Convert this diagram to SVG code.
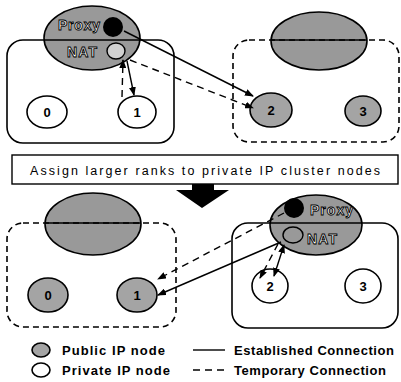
<svg xmlns="http://www.w3.org/2000/svg" width="401" height="382" viewBox="0 0 401 382">
<defs>
<marker id="ah" markerWidth="9" markerHeight="7" refX="8" refY="3.5" orient="auto" markerUnits="userSpaceOnUse"><path d="M0,0 L9,3.5 L0,7 Z" fill="#000"/></marker>
<marker id="ahs" markerWidth="9" markerHeight="7" refX="1" refY="3.5" orient="auto" markerUnits="userSpaceOnUse"><path d="M9,0 L0,3.5 L9,7 Z" fill="#000"/></marker>
</defs>
<style>
.bg{fill:#fff}
.sol{fill:none;stroke:#000;stroke-width:1.6}
.dsh{fill:none;stroke:#000;stroke-width:1.6;stroke-dasharray:6 4}
.oval{fill:#999;stroke:#000;stroke-width:1.6}
.pub{fill:#a4a4a4;stroke:#000;stroke-width:1.6}
.prv{fill:#fff;stroke:#000;stroke-width:1.6}
.lbl{font-family:"Liberation Sans",Arial,sans-serif;font-weight:bold;font-size:13px;text-anchor:middle;fill:#000}
.ol{font-family:"Liberation Sans",Arial,sans-serif;font-weight:bold;font-size:14px;fill:#fff;stroke:#000;stroke-width:0.9}
.txt{font-family:"Liberation Sans",Arial,sans-serif;font-size:12.5px;fill:#000}
.leg{font-family:"Liberation Sans",Arial,sans-serif;font-weight:bold;font-size:13px;fill:#000}
.c{fill:none;stroke:#000;stroke-width:1.4}
.cd{fill:none;stroke:#000;stroke-width:1.4;stroke-dasharray:7 5}
</style>
<rect class="bg" x="0" y="0" width="401" height="382"/>

<g id="cluster-top-left">
<ellipse class="oval" cx="92" cy="38" rx="48" ry="32"/>
<rect class="sol" x="7" y="40" width="167" height="103" rx="16"/>
<text class="ol" x="58" y="30" textLength="42">Proxy</text>
<circle cx="113" cy="27" r="10" fill="#000"/>
<text class="ol" x="67" y="57" textLength="30">NAT</text>
<ellipse cx="116" cy="51" rx="9" ry="8" fill="#d0d0d0" stroke="#000" stroke-width="1.4"/>
</g>
<g id="node-tl-0"><ellipse class="prv" cx="47" cy="112" rx="20" ry="16"/><text class="lbl" x="47" y="117">0</text></g>
<g id="node-tl-1"><ellipse class="prv" cx="137" cy="112" rx="19" ry="16"/><text class="lbl" x="137" y="117">1</text></g>

<g id="cluster-top-right">
<ellipse class="oval" cx="319" cy="41" rx="48" ry="29"/>
<rect class="dsh" x="233" y="40" width="166" height="102" rx="16"/>
<line class="sol" x1="271" y1="40" x2="367" y2="40"/>
</g>
<g id="node-tr-2"><ellipse class="pub" cx="271" cy="110" rx="21" ry="17"/><text class="lbl" x="271" y="115">2</text></g>
<g id="node-tr-3"><ellipse class="pub" cx="363" cy="111" rx="18" ry="15"/><text class="lbl" x="363" y="116">3</text></g>

<g id="banner">
<rect x="12" y="155" width="386" height="29" fill="#fff" stroke="#000" stroke-width="1.4"/>
<text class="txt" x="30" y="175" textLength="350">Assign larger ranks to private IP cluster nodes</text>
</g>
<g id="big-arrow"><polygon points="192,184 214,184 214,190 229,190 202,208 176,190 192,190" fill="#000"/></g>

<g id="cluster-bottom-left">
<ellipse class="oval" cx="93" cy="224" rx="48" ry="31"/>
<rect class="dsh" x="7" y="223" width="169" height="104" rx="16"/>
<line class="sol" x1="45" y1="223" x2="141" y2="223"/>
</g>
<g id="node-bl-0"><ellipse class="pub" cx="48" cy="295" rx="20" ry="17"/><text class="lbl" x="48" y="300">0</text></g>
<g id="node-bl-1"><ellipse class="pub" cx="137" cy="295" rx="20" ry="17"/><text class="lbl" x="137" y="300">1</text></g>

<g id="cluster-bottom-right">
<ellipse class="oval" cx="316" cy="225" rx="46" ry="30"/>
<rect class="sol" x="232" y="223" width="166" height="105" rx="16"/>
<circle cx="294" cy="208" r="10" fill="#000"/>
<text class="ol" x="310" y="215" textLength="43">Proxy</text>
<ellipse cx="293" cy="235" rx="10" ry="8" fill="#999" stroke="#000" stroke-width="1.4"/>
<text class="ol" x="307" y="244" textLength="30">NAT</text>
</g>
<g id="node-br-2"><ellipse class="prv" cx="270" cy="286" rx="18" ry="17"/><text class="lbl" x="270" y="291">2</text></g>
<g id="node-br-3"><ellipse class="prv" cx="363" cy="286" rx="18" ry="17"/><text class="lbl" x="363" y="291">3</text></g>

<g id="connectors">
<line class="c" x1="124" y1="31" x2="253" y2="96" marker-end="url(#ah)"/>
<line class="cd" x1="130" y1="60" x2="253" y2="108" marker-end="url(#ah)"/>
<line class="c" x1="127" y1="61" x2="134" y2="95" marker-end="url(#ah)"/>
<line class="cd" x1="122" y1="97" x2="123" y2="60" marker-end="url(#ah)"/>
<line class="cd" x1="284" y1="213" x2="158" y2="279" marker-end="url(#ah)"/>
<line class="c" x1="281" y1="242" x2="158" y2="295" marker-end="url(#ah)"/>
<line class="cd" x1="278" y1="244" x2="260" y2="278" marker-end="url(#ah)"/>
<line class="c" x1="284" y1="245" x2="274" y2="276" marker-start="url(#ahs)" marker-end="url(#ah)"/>
</g>

<g id="legend">
<ellipse class="pub" cx="41" cy="350" rx="9" ry="7"/>
<text class="leg" x="62" y="355" textLength="103">Public IP node</text>
<ellipse class="prv" cx="41" cy="370" rx="9" ry="7"/>
<text class="leg" x="62" y="375" textLength="108">Private IP node</text>
<line class="c" x1="193" y1="350" x2="225" y2="350"/>
<text class="leg" x="234" y="355" textLength="160">Established Connection</text>
<line class="cd" x1="193" y1="370" x2="225" y2="370"/>
<text class="leg" x="234" y="375" textLength="152">Temporary Connection</text>
</g>
</svg>
